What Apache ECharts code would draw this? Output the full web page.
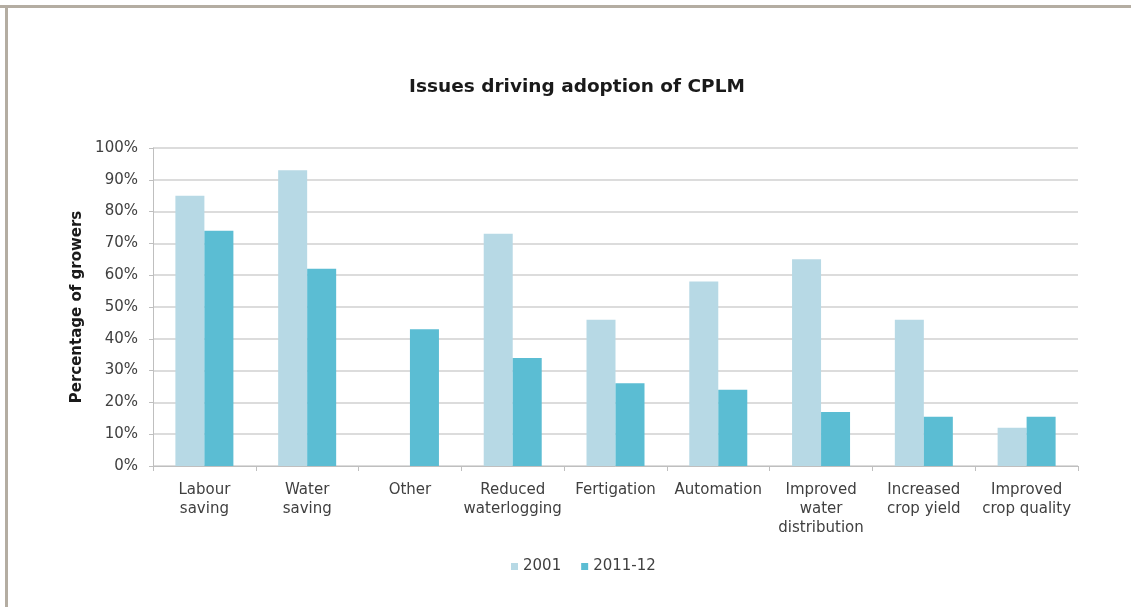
<!DOCTYPE html>
<html>
<head>
<meta charset="utf-8">
<script src="https://cdn.jsdelivr.net/npm/echarts@6/dist/echarts.min.js"></script>
<style>
  html, body { margin: 0; padding: 0; background: #ffffff; }
  #chart { width: 1131px; height: 607px; }
</style>
</head>
<body>
<div id="chart"></div>
<script>
const categories = [
  "Labour\nsaving",
  "Water\nsaving",
  "Other",
  "Reduced\nwaterlogging",
  "Fertigation",
  "Automation",
  "Improved\nwater\ndistribution",
  "Increased\ncrop yield",
  "Improved\ncrop quality"
];
const values2001 = [85, 93, 0, 73, 46, 58, 65, 46, 12];
const values2011 = [74, 62, 43, 34, 26, 24, 17, 15.5, 15.5];
const seriesNames = ["2001", "2011-12"];
const yTicks = [0, 100, 10];
const titleText = "Issues driving adoption of CPLM";
const yAxisTitle = "Percentage of growers";

const chart = echarts.init(document.getElementById('chart'), null, { renderer: 'canvas' });
const font = 'DejaVu Sans';
chart.setOption({
  backgroundColor: '#ffffff',
  animation: false,
  title: {
    text: titleText,
    left: 572,
    textAlign: 'center',
    top: 73,
    textStyle: { fontFamily: font, fontSize: 18.5, fontWeight: 'bold', color: '#1a1a1a' }
  },
  graphic: [
    { type: 'rect', shape: { x: 0, y: 5, width: 1131, height: 3 }, style: { fill: '#b4ada2' }, silent: true },
    { type: 'rect', shape: { x: 5, y: 5, width: 3, height: 602 }, style: { fill: '#b4ada2' }, silent: true }
  ],
  legend: {
    data: seriesNames,
    left: 506,
    top: 554,
    icon: 'rect',
    itemWidth: 7,
    itemHeight: 7,
    itemGap: 20,
    textStyle: { fontFamily: font, fontSize: 15, color: '#404040' }
  },
  grid: { left: 153, right: 53, top: 148, bottom: 141, containLabel: false },
  xAxis: {
    type: 'category',
    data: categories,
    axisLine: { lineStyle: { color: '#bfbfbf', width: 1 } },
    axisTick: { show: true, length: 5, lineStyle: { color: '#bfbfbf' } },
    axisLabel: { fontFamily: font, fontSize: 15, color: '#404040', lineHeight: 19, margin: 15, interval: 0 }
  },
  yAxis: {
    type: 'value',
    min: yTicks[0],
    max: yTicks[1],
    interval: yTicks[2],
    name: yAxisTitle,
    nameLocation: 'middle',
    nameGap: 62,
    nameRotate: 90,
    nameTextStyle: { fontFamily: font, fontSize: 15, fontWeight: 'bold', color: '#1a1a1a' },
    axisLine: { show: true, lineStyle: { color: '#bfbfbf', width: 1 } },
    axisTick: { show: true, length: 4, lineStyle: { color: '#bfbfbf' } },
    axisLabel: { formatter: '{value}%', fontFamily: font, fontSize: 15, color: '#404040', margin: 15 },
    splitLine: { lineStyle: { color: '#dcdcdc', width: 2 } }
  },
  series: [
    { name: seriesNames[0], type: 'bar', data: values2001, barWidth: 29, barGap: '0%', itemStyle: { color: '#b7d9e5' } },
    { name: seriesNames[1], type: 'bar', data: values2011, barWidth: 29, barGap: '0%', itemStyle: { color: '#5bbdd3' } }
  ]
});
</script>
</body>
</html>
